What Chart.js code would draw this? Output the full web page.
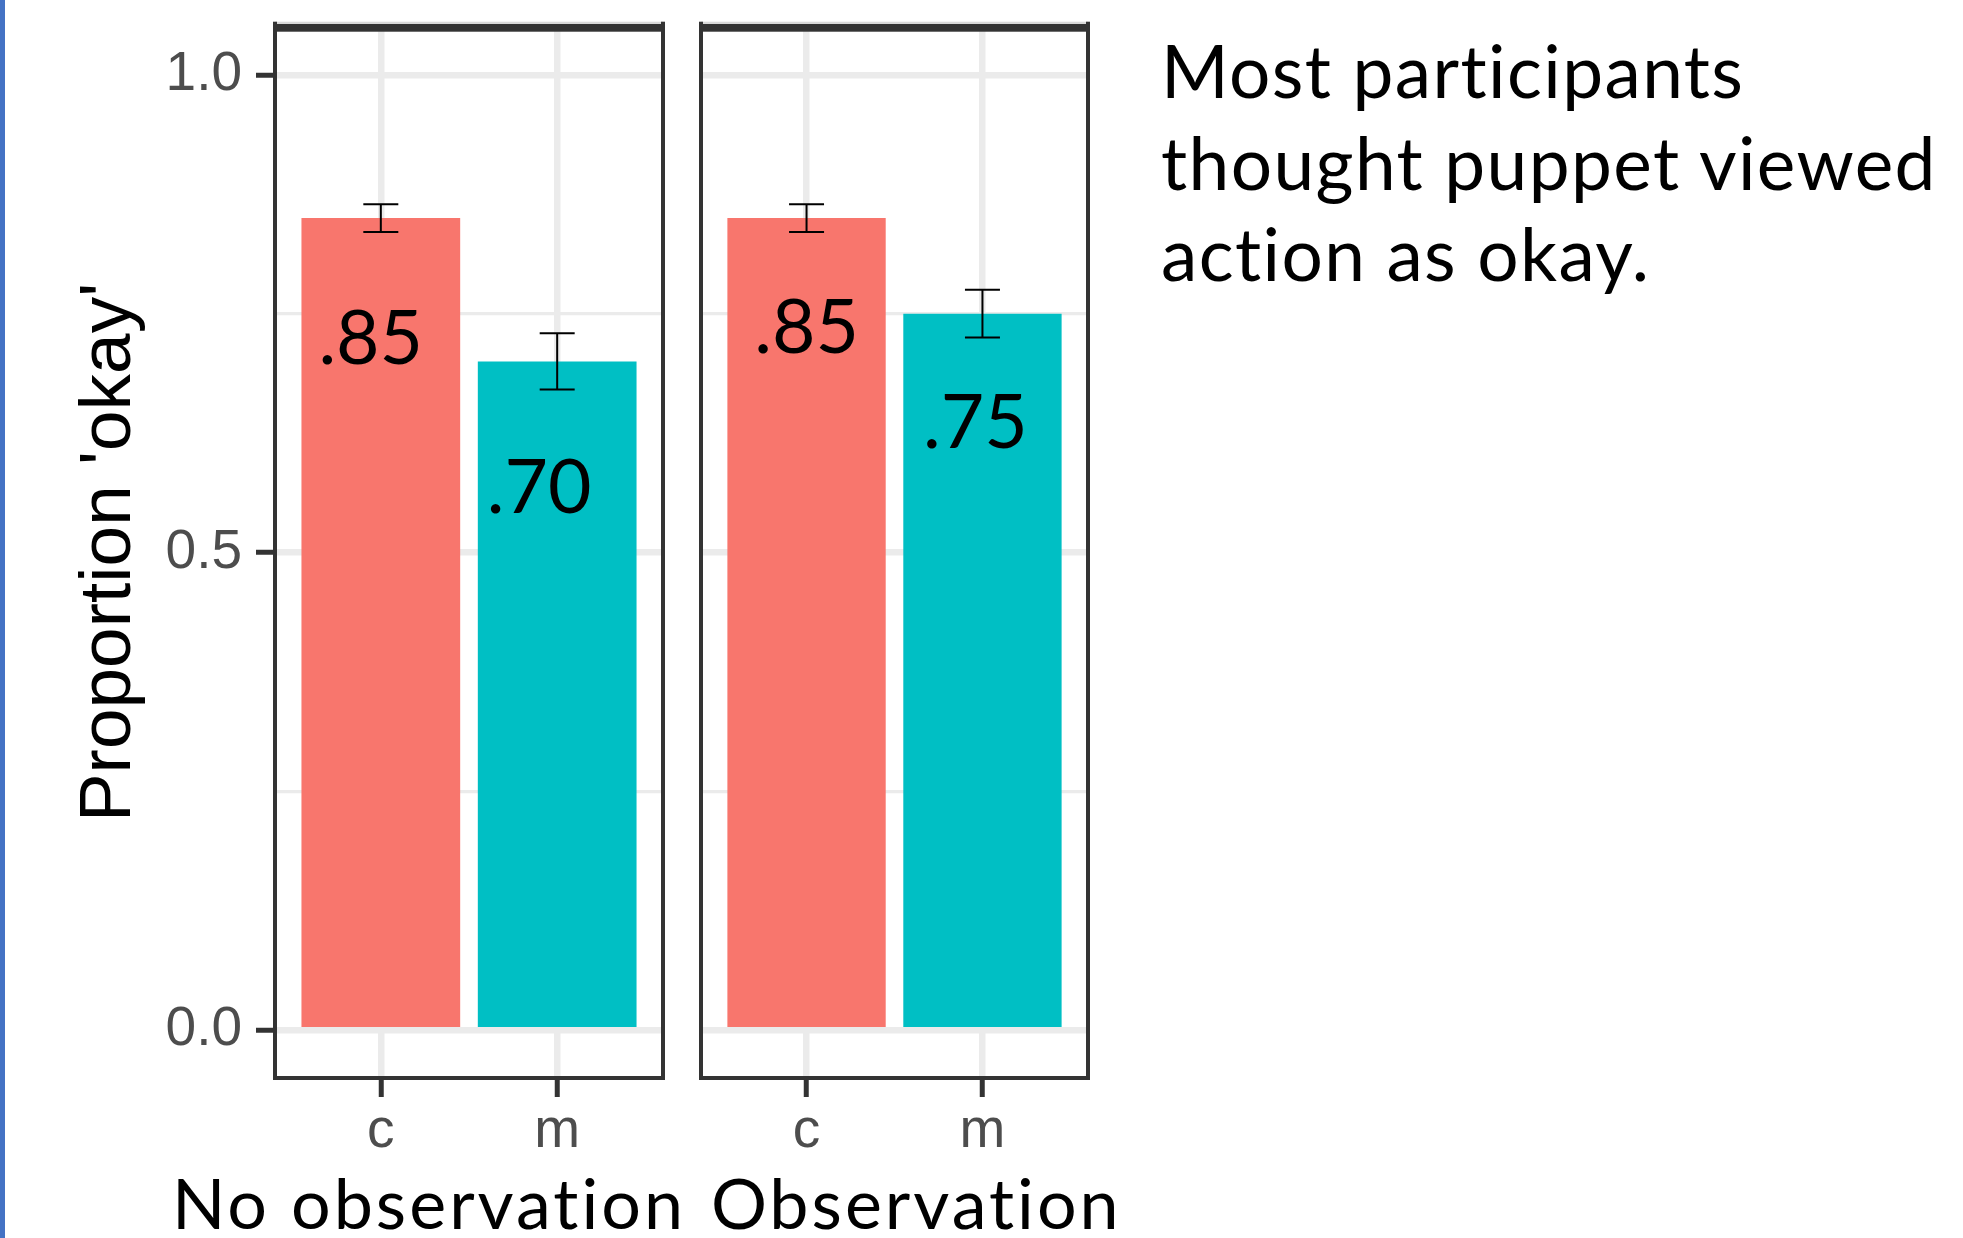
<!DOCTYPE html>
<html>
<head>
<meta charset="utf-8">
<script src="https://cdn.jsdelivr.net/npm/chart.js@4.4.1/dist/chart.umd.min.js"></script>
<style>
  html, body { margin: 0; padding: 0; background: #fff; }
  body { width: 1963px; height: 1238px; position: relative; overflow: hidden; }
  .edge { position: absolute; left: 0; top: 0; width: 5px; height: 1238px; background: #4472c4; }
  canvas { position: absolute; top: 0; }
  #panelA { left: 0; }
  #panelB { left: 690px; }
  .note { position: absolute; left: 1161px; top: 25px; font-family: Lato, sans-serif; font-size: 73px;
          letter-spacing: 1.4px; line-height: 91.5px; color: #000; white-space: nowrap; }
  .facet { position: absolute; top: 1160px; font-family: Lato, sans-serif; font-size: 70px;
           letter-spacing: 3px; line-height: 84px; color: #000; white-space: nowrap; }
</style>
</head>
<body>
<div class="edge"></div>
<canvas id="panelA" width="690" height="1238"></canvas>
<canvas id="panelB" width="420" height="1238"></canvas>
<div class="note">Most participants<br>thought puppet viewed<br>action as okay.</div>
<div class="facet" id="facetA" style="left:172px"></div>
<div class="facet" id="facetB" style="left:711px"></div>
<script>
// Conditions and response categories
const facets = ['No observation', 'Observation'];
const categories = ['c', 'm'];

// Proportion answering "okay", with standard errors
const noObsValues = [0.85, 0.70];
const noObsErrors = [0.0145, 0.0295];
const obsValues = [0.85, 0.75];
const obsErrors = [0.0145, 0.025];

// Y axis ticks
const yTickValues = [0, 0.5, 1];
const yTickLabels = ['0.0', '0.5', '1.0'];
const yMinorValues = [0.25, 0.75];

// Anchors of the value annotations in data units (x: category index, y: text baseline)
const noObsLabelX = [-0.057, 0.898];
const noObsLabelY = [0.697, 0.541];
const obsLabelX = [0, 0.96];
const obsLabelY = [0.7085, 0.609];

const barColors = ['#F8766D', '#00BFC4'];
const gridColor = '#ebebeb';
const frameColor = '#333333';

document.getElementById('facetA').textContent = facets[0];
document.getElementById('facetB').textContent = facets[1];

const isMajor = v => yTickValues.some(t => Math.abs(t - v) < 1e-9);
const tickLabel = v => {
  const i = yTickValues.findIndex(t => Math.abs(t - v) < 1e-9);
  return i >= 0 ? yTickLabels[i] : '';
};

// Error bars, value annotations, facet strip and panel frame
const panelDecor = {
  id: 'panelDecor',
  afterDatasetsDraw(chart, args, opts) {
    const { ctx } = chart;
    const xs = chart.scales.x, ys = chart.scales.y;
    const meta = chart.getDatasetMeta(0);
    const vals = chart.data.datasets[0].data;
    ctx.save();
    ctx.strokeStyle = '#000';
    ctx.lineWidth = 2;
    vals.forEach((d, i) => {
      const x = meta.data[i].x;
      const e = opts.errors[i];
      const yTop = ys.getPixelForValue(d.y + e);
      const yBot = ys.getPixelForValue(d.y - e);
      ctx.beginPath();
      ctx.moveTo(x, yTop); ctx.lineTo(x, yBot);
      ctx.moveTo(x - 17.5, yTop); ctx.lineTo(x + 17.5, yTop);
      ctx.moveTo(x - 17.5, yBot); ctx.lineTo(x + 17.5, yBot);
      ctx.stroke();
    });
    ctx.fillStyle = '#000';
    ctx.font = '75px Lato';
    ctx.textAlign = 'center';
    ctx.textBaseline = 'alphabetic';
    vals.forEach((d, i) => {
      const txt = '.' + String(Math.round(d.y * 100)).padStart(2, '0');
      ctx.fillText(txt, xs.getPixelForValue(opts.labelX[i]), ys.getPixelForValue(opts.labelY[i]));
    });
    ctx.restore();
  },
  afterDraw(chart) {
    const { ctx, chartArea: a } = chart;
    const stripTop = a.top - 5.3;
    ctx.save();
    ctx.fillStyle = '#d9d9d9';
    ctx.fillRect(a.left, stripTop, a.right - a.left, 3);
    ctx.fillStyle = frameColor;
    ctx.fillRect(a.left, a.top - 3, a.right - a.left, 7.7);
    ctx.fillRect(a.left - 2, stripTop, 4, a.bottom + 2 - stripTop);
    ctx.fillRect(a.right - 2, stripTop, 4, a.bottom + 2 - stripTop);
    ctx.fillRect(a.left - 2, a.bottom - 2, a.right - a.left + 4, 4);
    ctx.restore();
  }
};

function makePanel(canvasId, values, errors, labelX, labelY, showY, padding) {
  return new Chart(document.getElementById(canvasId), {
    type: 'bar',
    data: {
      datasets: [{
        data: values.map((v, i) => ({ x: i, y: v })),
        backgroundColor: barColors,
        borderWidth: 0,
        barPercentage: 0.9,
        categoryPercentage: 1.0
      }]
    },
    options: {
      responsive: false,
      animation: false,
      events: [],
      layout: { padding },
      plugins: {
        legend: { display: false },
        tooltip: { enabled: false },
        panelDecor: { errors, labelX, labelY }
      },
      scales: {
        x: {
          type: 'linear', min: -0.6, max: 1.6, offset: false,
          afterBuildTicks: s => { s.ticks = categories.map((c, i) => ({ value: i })); },
          afterFit: s => { s.height = 160; s.paddingLeft = 0; s.paddingRight = 0; },
          border: { display: false },
          grid: { offset: false, color: gridColor, lineWidth: 6.5, drawTicks: true, tickLength: 19, tickColor: frameColor, tickWidth: 5 },
          ticks: {
            autoSkip: false, maxRotation: 0, padding: 2, color: '#4d4d4d',
            font: { family: 'Liberation Sans', size: 55 },
            callback: v => categories[v] ?? ''
          }
        },
        y: {
          type: 'linear', min: -0.05, max: 1.05,
          afterBuildTicks: s => {
            s.ticks = [...yTickValues, ...yMinorValues].sort((a, b) => a - b).map(v => ({ value: v }));
          },
          afterFit: s => { s.width = showY ? 275 : 0; s.paddingTop = 0; s.paddingBottom = 0; },
          border: { display: false },
          grid: {
            color: gridColor,
            lineWidth: c => isMajor(c.tick.value) ? 6.5 : 3.3,
            drawTicks: showY, tickLength: 19, tickWidth: 5,
            tickColor: c => isMajor(c.tick.value) ? frameColor : 'rgba(0,0,0,0)'
          },
          ticks: {
            display: showY, autoSkip: false, padding: 14, color: '#4d4d4d',
            font: { family: 'Liberation Sans', size: 55 },
            callback: v => tickLabel(v)
          },
          title: {
            display: showY, text: "Proportion 'okay'", color: '#000',
            font: { family: 'Liberation Sans', size: 73 },
            padding: { top: 66, bottom: 0 }
          }
        }
      }
    },
    plugins: [panelDecor]
  });
}

makePanel('panelA', noObsValues, noObsErrors, noObsLabelX, noObsLabelY, true, { left: 0, top: 27, right: 27, bottom: 0 });
makePanel('panelB', obsValues, obsErrors, obsLabelX, obsLabelY, false, { left: 11, top: 27, right: 22, bottom: 0 });
</script>
</body>
</html>
